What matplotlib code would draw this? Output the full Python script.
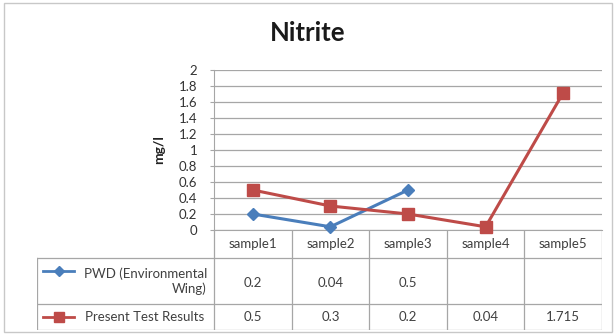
import matplotlib
matplotlib.use("Agg")
import matplotlib.pyplot as plt
from matplotlib.patches import Rectangle
from matplotlib.lines import Line2D

plt.rcParams['font.family'] = ['Lato', 'DejaVu Sans']

categories = ["sample1", "sample2", "sample3", "sample4", "sample5"]
pwd_label = "PWD (Environmental\nWing)"
pwd_values = [0.2, 0.04, 0.5]
present_label = "Present Test Results"
present_values = [0.5, 0.3, 0.2, 0.04, 1.715]
yticks = [0, 0.2, 0.4, 0.6, 0.8, 1, 1.2, 1.4, 1.6, 1.8, 2]
ytick_labels = ["0", "0.2", "0.4", "0.6", "0.8", "1", "1.2", "1.4", "1.6", "1.8", "2"]

blue = "#4a7ebb"
red = "#be4b48"
grid_c = "#a6a6a6"
txt_c = "#404040"

W, H = 615, 335
fig = plt.figure(figsize=(W / 100, H / 100), dpi=100)

# outer chart border
fig.patches.append(Rectangle((4 / W, 3 / H), 608 / W, 329 / H, transform=fig.transFigure,
                             fill=False, edgecolor="#c8c8c8", linewidth=1))

# plot area in pixels
left, right, top, bottom = 214, 602, 70, 230
tbottom = 330
ax = fig.add_axes([left / W, (H - bottom) / H, (right - left) / W, (bottom - top) / H])
x = list(range(len(categories)))
ax.plot(x[:len(pwd_values)], pwd_values, color=blue, lw=2.2, marker="D", ms=6,
        markerfacecolor=blue, markeredgecolor=blue, zorder=3, clip_on=False)
ax.plot(x, present_values, color=red, lw=2.2, marker="s", ms=8,
        markerfacecolor=red, markeredgecolor=red, zorder=4, clip_on=False)
ax.set_xlim(-0.5, len(categories) - 0.5)
ax.set_ylim(0, 2)
ax.set_yticks(yticks)
ax.set_yticklabels(ytick_labels)
ax.set_xticks([])
ax.yaxis.grid(True, color=grid_c, lw=0.9)
ax.set_axisbelow(True)
ax.tick_params(axis="y", length=3, width=0.8, color=grid_c, pad=9, labelsize=9.5, labelcolor="#333333")
for s in ["top", "right"]:
    ax.spines[s].set_visible(False)
ax.spines["left"].set_color(grid_c)
ax.spines["bottom"].set_color(grid_c)
ax.set_ylabel("mg/l", fontsize=10, fontweight="bold", labelpad=10, color="#222222")

fig.text(0.5, (H - 33) / H, "Nitrite", ha="center", va="center", fontsize=18.5,
         fontweight="bold", color="#1a1a1a")

# data table below the plot, in column units horizontally and pixels vertically
tleft = 37
col_w = (right - left) / len(categories)
x0 = -0.5 - (left - tleft) / col_w
tb = fig.add_axes([tleft / W, (H - tbottom) / H, (right - tleft) / W, (tbottom - bottom) / H])
tb.set_xlim(x0, len(categories) - 0.5)
tb.set_ylim(tbottom, bottom)
tb.axis("off")

lw = 0.9
for i in range(len(categories) + 1):
    xb = i - 0.5
    tb.plot([xb, xb], [bottom, tbottom], color=grid_c, lw=lw)
tb.plot([x0, x0], [258, tbottom], color=grid_c, lw=lw)
for yy in [258, 304, tbottom]:
    tb.plot([x0, len(categories) - 0.5], [yy, yy], color=grid_c, lw=lw)

fs = 9.5
for i, c in enumerate(categories):
    tb.text(i, 244, c, ha="center", va="center", fontsize=fs, color=txt_c)
for i, v in enumerate(pwd_values):
    tb.text(i, 283, f"{v:g}", ha="center", va="center", fontsize=fs, color=txt_c)
for i, v in enumerate(present_values):
    tb.text(i, 317, f"{v:g}", ha="center", va="center", fontsize=fs, color=txt_c)

# legend keys in the row headers
kx0 = x0 + 6 / col_w
kx1 = x0 + 37 / col_w
tb.add_line(Line2D([kx0, kx1], [271, 271], color=blue, lw=2))
tb.plot([(kx0 + kx1) / 2], [271], marker="D", ms=5, color=blue)
tb.add_line(Line2D([kx0, kx1], [317, 317], color=red, lw=2))
tb.plot([(kx0 + kx1) / 2], [317], marker="s", ms=7.5, color=red)
tb.text(-0.5 - 7 / col_w, 281, pwd_label, ha="right", va="center", multialignment="right",
        fontsize=fs, color=txt_c, linespacing=1.25)
tb.text(-0.5 - 10 / col_w, 317, present_label, ha="right", va="center",
        fontsize=fs, color=txt_c)

fig.savefig("out.png", dpi=100)
